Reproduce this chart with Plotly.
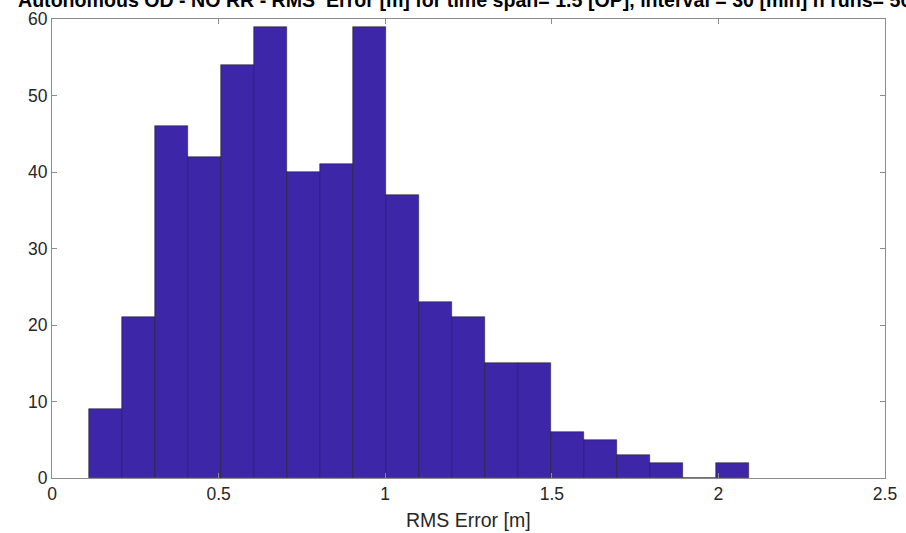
import plotly.graph_objects as go

# Histogram data
bin_start = 0.1115
bin_width = 0.0990
counts = [9, 21, 46, 42, 54, 59, 40, 41, 59, 37, 23, 21, 15, 15, 6, 5, 3, 2, 0, 2]
x_ticks = [0, 0.5, 1, 1.5, 2, 2.5]
x_tick_labels = ["0", "0.5", "1", "1.5", "2", "2.5"]
y_ticks = [0, 10, 20, 30, 40, 50, 60]
x_label = "RMS Error [m]"
title_text = ("Autonomous OD - NO RR - RMS  Error [m] for time span= 1.5 [OP], "
              "interval = 30 [min] n runs= 500")

centers = [bin_start + bin_width * (i + 0.5) for i in range(len(counts))]

font_family = "Liberation Sans, Arial, Helvetica, sans-serif"

fig = go.Figure()
fig.add_trace(go.Bar(
    x=centers,
    y=counts,
    width=[bin_width] * len(counts),
    marker=dict(color="rgb(62,38,168)",
                line=dict(color="rgba(20,20,20,0.8)", width=0.6)),
    showlegend=False,
))

axis_common = dict(
    showline=True, linecolor="#8c8c8c", linewidth=1,
    mirror="ticks", ticks="inside", ticklen=5, tickcolor="#8c8c8c",
    showgrid=False, zeroline=False, automargin=False,
    tickfont=dict(family=font_family, size=17.5, color="#262626"),
)

fig.update_layout(
    width=906, height=533,
    margin=dict(l=52, r=21, t=19, b=55),
    paper_bgcolor="white", plot_bgcolor="white",
    bargap=0,
    xaxis=dict(range=[0, 2.5], tickvals=x_ticks, ticktext=x_tick_labels,
               **axis_common),
    yaxis=dict(range=[0, 60], tickvals=y_ticks, **axis_common),
    annotations=[
        dict(
            text="<b>" + title_text + "</b>",
            xref="paper", yref="paper", x=-0.0432, y=1.041,
            xanchor="left", yanchor="middle", showarrow=False,
            font=dict(family=font_family, size=19.6, color="black"),
        ),
        dict(
            text=x_label,
            xref="paper", yref="paper", x=0.5, y=-0.0915,
            xanchor="center", yanchor="middle", showarrow=False,
            font=dict(family=font_family, size=19.5, color="#262626"),
        ),
    ],
)

fig.write_html("out.html")
